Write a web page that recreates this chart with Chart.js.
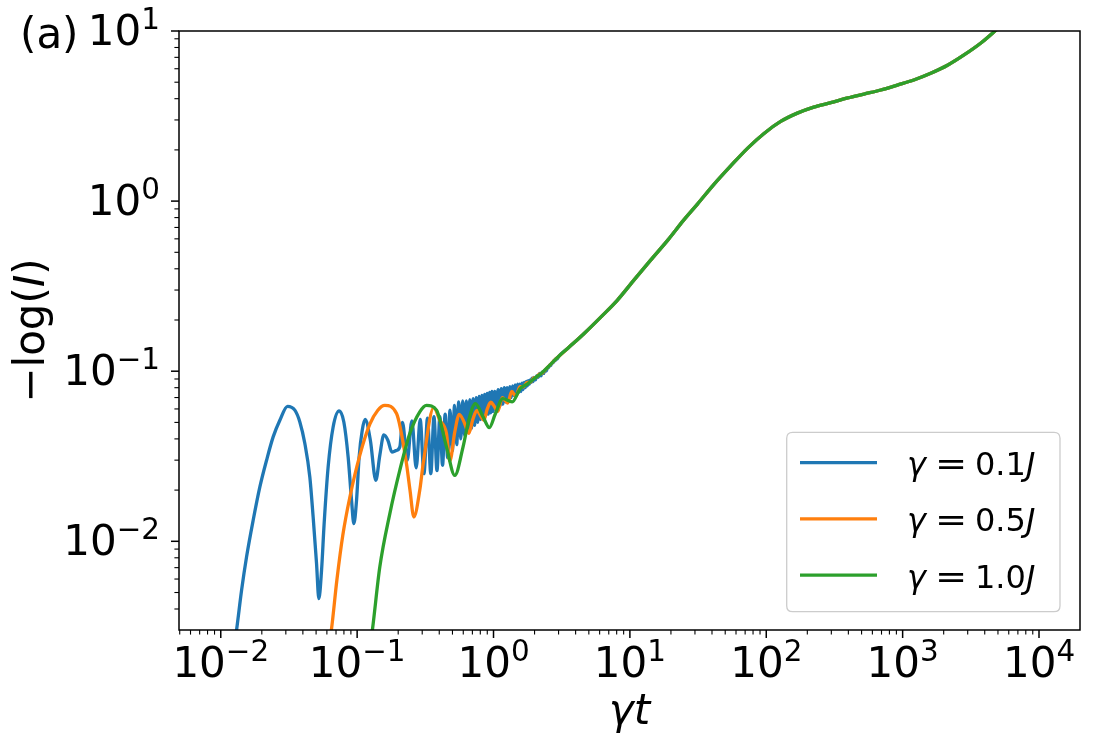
<!DOCTYPE html>
<html>
<head>
<meta charset="utf-8">
<script src="https://cdn.jsdelivr.net/npm/chart.js@4.4.1/dist/chart.umd.min.js"></script>
<style>
html,body{margin:0;padding:0;background:#fff;}
#wrap{width:1102px;height:753px;position:relative;}
canvas{display:block;}
</style>
</head>
<body>
<div id="wrap"><canvas id="c" width="1102" height="753"></canvas></div>
<script>
// ---------------- data ----------------
const gammaLabels = ['0.1', '0.5', '1.0'];
const seriesColors = ['#1f77b4', '#ff7f0e', '#2ca02c'];

const xTickExps = [-2, -1, 0, 1, 2, 3, 4];
const yTickExps = [-2, -1, 0, 1];
const xMin = 0.00494, xMax = 19980;
const yMin = 0.00301, yMax = 10;

// gamma = 0.1J  (early, oscillating part)
const blueT = [0.0100,0.0120,0.01305,0.01421,0.01545,0.01728,0.01935,0.02167,0.02422,0.02712,0.03088,0.03492,0.0380,0.04136,0.04498,0.04757,0.05039,0.05238,0.05483,0.05728,0.06129,0.06668,0.07379,0.07988,0.0859,0.0910,0.0946,0.0990,0.1034,0.1090,0.1145,0.1250,0.1371,0.1467,0.1569,0.1680,0.1796,0.1921,0.2056,
 0.215,0.233,0.252,0.271,0.290,0.309,0.328,0.347,0.366,0.385,0.404,0.423,0.442,0.461,0.480,0.499,0.518,0.537,0.556,0.575,0.594,0.613,0.632,0.651,0.670,0.689,0.708,0.727,0.746,0.765,0.784,0.803,0.822,0.841,0.860,0.879,0.898,0.917,0.936,0.955,0.974,0.993,
 1.02,1.05,1.08,1.11,1.14,1.17,1.20,1.23,1.26,1.29,1.32,1.35,1.38,1.41,1.44,1.47,1.50,1.53,1.56,1.59,1.62,1.65,1.68,1.71,1.74,1.77,1.80,1.83,1.86,1.89,1.92,1.95,1.98,
 2.03,2.08,2.13,2.18,2.23,2.28,2.33,2.38,2.43,2.48,2.53,2.58,2.63,2.68,2.73,2.78,2.83,2.88,2.93];
const blueV = [0.0005,0.0019,0.0030,0.00515,0.00808,0.01329,0.02087,0.02996,0.0411,0.0515,0.0622,0.0590,0.0503,0.03756,0.02389,0.0139,0.00739,0.0046,0.00675,0.0127,0.02736,0.0470,0.0584,0.0503,0.0313,0.01742,0.0127,0.01742,0.0313,0.0450,0.0520,0.0393,0.02284,0.0321,0.0422,0.0393,0.0335,0.0341,0.0359,
 0.050,0.030,0.051,0.027,0.052,0.025,0.053,0.025,0.054,0.026,0.054,0.028,0.056,0.031,0.059,0.034,0.063,0.037,0.066,0.040,0.067,0.042,0.067,0.044,0.068,0.046,0.069,0.048,0.070,0.050,0.071,0.052,0.072,0.053,0.073,0.055,0.074,0.056,0.075,0.057,0.076,0.058,
 0.076,0.060,0.078,0.062,0.079,0.064,0.080,0.066,0.080,0.068,0.081,0.070,0.082,0.072,0.083,0.073,0.084,0.075,0.084,0.076,0.085,0.078,0.086,0.080,0.087,0.082,0.088,0.084,0.089,0.086,0.091,0.087,0.092,
 0.089,0.094,0.092,0.097,0.094,0.099,0.097,0.101,0.100,0.104,0.105,0.109,0.108,0.112,0.112,0.116,0.115,0.119,0.118];

// gamma = 0.5J
const orangeT = [0.050,0.0649,0.0710,0.0785,0.0884,0.1047,0.1239,0.1418,0.1596,0.1945,0.230,0.244,0.2605,0.288,0.305,0.3646,0.4036,0.452,0.478,0.520,0.561,0.610,0.659,0.705,0.755,0.800,0.849,0.900,0.955,1.015,1.075,1.16,1.27,1.36,1.46,1.56,1.66,1.76,1.86,1.96,2.06,2.16,2.26,2.40,2.60,2.80];
const orangeV = [0.0008,0.00306,0.0059,0.01085,0.01815,0.0321,0.0488,0.0590,0.0630,0.0564,0.0286,0.0200,0.0139,0.0200,0.0286,0.0610,0.0515,0.0430,0.0296,0.0440,0.0558,0.0500,0.0431,0.0520,0.0588,0.0550,0.0515,0.0600,0.0657,0.0620,0.0580,0.0700,0.0650,0.0760,0.0710,0.0810,0.0810,0.0860,0.0860,0.0910,0.0920,0.0960,0.0970,0.1020,0.1090,0.1160];

// gamma = 1.0J
const greenT = [0.110,0.1297,0.1466,0.1737,0.2056,0.2433,0.2879,0.3226,0.382,0.452,0.520,0.598,0.660,0.736,0.839,0.932,1.03,1.17,1.37,1.57,1.77,1.97,2.30,2.60];
const greenV = [0.0012,0.00306,0.00706,0.01455,0.0262,0.0430,0.0577,0.0630,0.0590,0.0359,0.0244,0.0359,0.0520,0.0645,0.0539,0.0466,0.0560,0.0690,0.0660,0.0790,0.0840,0.0900,0.0990,0.1090];

// common late-time curve (all three series coincide)
const mainT = [3.0,3.51,4.62,6.12,8.11,10.7,14.2,18.97,24.8,31.3,41.2,54.9,73.1,96.3,127.6,169,223,297,396,521,692,916,1208,1607,2148,2820,3750,4667,6000,8000,10000];
const mainV = [0.122,0.1365,0.1667,0.208,0.262,0.343,0.450,0.590,0.773,0.960,1.25,1.61,2.05,2.50,2.94,3.29,3.57,3.79,4.04,4.26,4.50,4.81,5.15,5.64,6.31,7.23,8.5,9.87,11.9,15.0,18.0];

// ---------------- build datasets ----------------
function pts(T, V) { return T.map((t, i) => ({x: t, y: V[i]})); }
const tail = pts(mainT, mainV);
const seriesData = [pts(blueT, blueV).concat(tail), pts(orangeT, orangeV).concat(tail), pts(greenT, greenV).concat(tail)];

const FONT = '"DejaVu Sans", sans-serif';
const FS = 42, SFS = 29.4, LFS = 32;

function drawPow(ctx, exp, x, y, align) {
  const base = '10';
  const sup = exp < 0 ? '\u2212' + (-exp) : String(exp);
  ctx.font = FS + 'px ' + FONT;
  const wb = ctx.measureText(base).width;
  ctx.font = SFS + 'px ' + FONT;
  const ws = ctx.measureText(sup).width;
  const w = wb + ws;
  const x0 = align === 'center' ? x - w / 2 : x - w;
  ctx.textAlign = 'left';
  ctx.textBaseline = 'alphabetic';
  ctx.font = FS + 'px ' + FONT;
  ctx.fillText(base, x0, y);
  ctx.font = SFS + 'px ' + FONT;
  ctx.fillText(sup, x0 + wb, y - 16);
}

function drawPieces(ctx, pieces, x, y) {
  let cx = x;
  for (const p of pieces) {
    ctx.font = p[1];
    ctx.fillText(p[0], cx, y);
    cx += ctx.measureText(p[0]).width;
  }
  return cx - x;
}
function piecesWidth(ctx, pieces) {
  let w = 0;
  for (const p of pieces) { ctx.font = p[1]; w += ctx.measureText(p[0]).width; }
  return w;
}

const axesPlugin = {
  id: 'mplAxes',
  afterDraw(chart) {
    const ctx = chart.ctx;
    const ca = chart.chartArea;
    const xs = chart.scales.x, ys = chart.scales.y;
    ctx.save();
    ctx.fillStyle = '#000';
    ctx.strokeStyle = '#000';

    // ticks
    for (let k = -3; k <= 4; k++) {
      for (let m = 1; m <= 9; m++) {
        const v = m * Math.pow(10, k);
        if (v >= xMin && v <= xMax) {
          const px = xs.getPixelForValue(v);
          const len = m === 1 ? 8 : 4.6;
          ctx.lineWidth = m === 1 ? 1.5 : 1.1;
          ctx.beginPath(); ctx.moveTo(px, ca.bottom); ctx.lineTo(px, ca.bottom + len); ctx.stroke();
        }
        if (v >= yMin && v <= yMax) {
          const py = ys.getPixelForValue(v);
          const len = m === 1 ? 8 : 4.6;
          ctx.lineWidth = m === 1 ? 1.5 : 1.1;
          ctx.beginPath(); ctx.moveTo(ca.left, py); ctx.lineTo(ca.left - len, py); ctx.stroke();
        }
      }
    }
    // spines
    ctx.lineWidth = 1.5;
    ctx.strokeRect(ca.left, ca.top, ca.right - ca.left, ca.bottom - ca.top);

    // tick labels
    for (const e of xTickExps) {
      drawPow(ctx, e, xs.getPixelForValue(Math.pow(10, e)), 677, 'center');
    }
    for (const e of yTickExps) {
      drawPow(ctx, e, 160, ys.getPixelForValue(Math.pow(10, e)) + 14, 'right');
    }

    // axis titles
    ctx.textAlign = 'left';
    ctx.textBaseline = 'alphabetic';
    const it = 'italic ' + FS + 'px ' + FONT, rg = FS + 'px ' + FONT;
    const xt = [['\u03b3', it], ['t', it]];
    const xw = piecesWidth(ctx, xt);
    drawPieces(ctx, xt, (ca.left + ca.right) / 2 - xw / 2, 724);

    const yt = [['\u2212log(', rg], ['I', it], [')', rg]];
    const yw = piecesWidth(ctx, yt);
    ctx.save();
    ctx.translate(44, (ca.top + ca.bottom) / 2);
    ctx.rotate(-Math.PI / 2);
    drawPieces(ctx, yt, -yw / 2, 0);
    ctx.restore();

    // panel label
    ctx.font = rg;
    ctx.fillText('(a)', 20, 48);

    // legend
    const bx = 786.7, by = 432.3, bw = 1060 - 786.7, bh = 611.7 - 432.3, r = 6;
    ctx.beginPath();
    ctx.moveTo(bx + r, by);
    ctx.lineTo(bx + bw - r, by); ctx.quadraticCurveTo(bx + bw, by, bx + bw, by + r);
    ctx.lineTo(bx + bw, by + bh - r); ctx.quadraticCurveTo(bx + bw, by + bh, bx + bw - r, by + bh);
    ctx.lineTo(bx + r, by + bh); ctx.quadraticCurveTo(bx, by + bh, bx, by + bh - r);
    ctx.lineTo(bx, by + r); ctx.quadraticCurveTo(bx, by, bx + r, by);
    ctx.closePath();
    ctx.fillStyle = 'rgba(255,255,255,0.8)';
    ctx.fill();
    ctx.strokeStyle = '#cccccc';
    ctx.lineWidth = 1.3;
    ctx.stroke();

    const lit = 'italic ' + LFS + 'px ' + FONT, lrg = LFS + 'px ' + FONT;
    chart.data.datasets.forEach((ds, i) => {
      const ly = 462.7 + i * 56.2;
      ctx.strokeStyle = ds.borderColor;
      ctx.lineWidth = 3.3;
      ctx.lineCap = 'butt';
      ctx.beginPath(); ctx.moveTo(800, ly); ctx.lineTo(877, ly); ctx.stroke();
      ctx.fillStyle = '#000';
      const tx = 907, tb = ly + 12.5;
      ctx.font = lit; ctx.fillText('\u03b3', tx, tb);
      // wide "=" centred at x = 951
      ctx.font = lrg;
      const we = ctx.measureText('=').width;
      ctx.save();
      ctx.translate(951, tb);
      ctx.scale(1.2, 1);
      ctx.fillText('=', -we / 2, 0);
      ctx.restore();
      ctx.font = lrg; ctx.fillText(gammaLabels[i], 975, tb);
      const w = ctx.measureText(gammaLabels[i]).width;
      ctx.font = lit; ctx.fillText('J', 975 + w, tb);
    });
    ctx.restore();
  }
};

new Chart(document.getElementById('c').getContext('2d'), {
  type: 'line',
  data: {
    datasets: seriesData.map((d, i) => ({
      label: '\u03b3 = ' + gammaLabels[i] + 'J',
      data: d,
      borderColor: seriesColors[i],
      backgroundColor: seriesColors[i],
      borderWidth: 3.3,
      pointRadius: 0,
      fill: false,
      cubicInterpolationMode: 'monotone',
      borderJoinStyle: 'round',
      borderCapStyle: 'butt',
      clip: 0,
      order: 2 - i
    }))
  },
  options: {
    responsive: false,
    animation: false,
    devicePixelRatio: 1,
    layout: { padding: { left: 179, right: 22, top: 31, bottom: 123 } },
    scales: {
      x: { type: 'logarithmic', min: xMin, max: xMax, display: false },
      y: { type: 'logarithmic', min: yMin, max: yMax, display: false }
    },
    plugins: { legend: { display: false }, tooltip: { enabled: false } },
    events: []
  },
  plugins: [axesPlugin]
});
</script>
</body>
</html>
